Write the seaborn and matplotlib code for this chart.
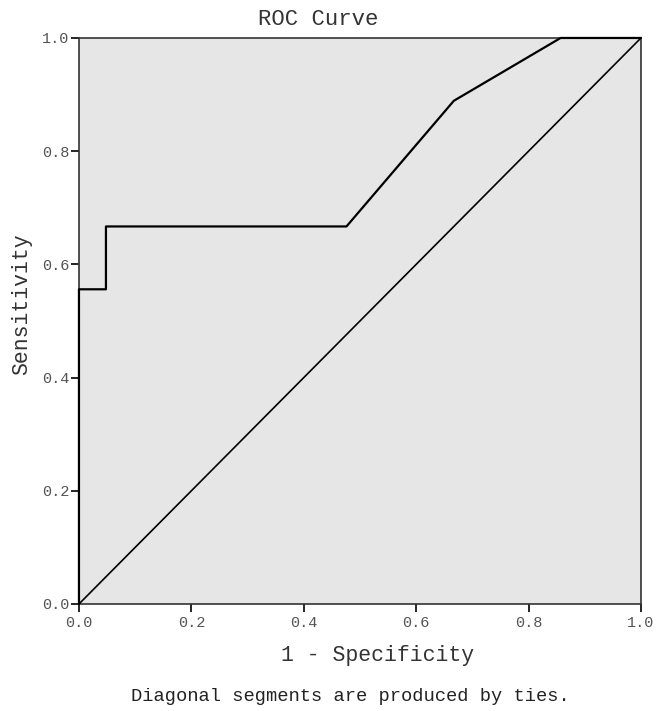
import matplotlib
matplotlib.use("Agg")
import matplotlib.pyplot as plt
import seaborn as sns
import pandas as pd

# ROC curve points
fpr = [0.0, 0.0, 0.048, 0.048, 0.476, 0.667, 0.857, 1.0]
tpr = [0.0, 0.556, 0.556, 0.667, 0.667, 0.889, 1.0, 1.0]
ref_x = [0.0, 1.0]
ref_y = [0.0, 1.0]
ticks = [0.0, 0.2, 0.4, 0.6, 0.8, 1.0]

sns.set_style("white")
plt.rcParams['font.family'] = ['Liberation Mono', 'DejaVu Sans Mono']

roc = pd.DataFrame({"fpr": fpr, "tpr": tpr})
ref = pd.DataFrame({"x": ref_x, "y": ref_y})

fig = plt.figure(figsize=(6.57, 7.11), dpi=100)
ax = fig.add_axes([0.1202, 0.1505, 0.8554, 0.7961])
ax.set_facecolor('#e6e6e6')

sns.lineplot(data=roc, x="fpr", y="tpr", sort=False, estimator=None,
             color='black', linewidth=1.6, ax=ax, zorder=3, clip_on=False)
sns.lineplot(data=ref, x="x", y="y", sort=False, estimator=None,
             color='black', linewidth=1.2, ax=ax, zorder=3)

ax.set_xlim(0, 1)
ax.set_ylim(0, 1)
ax.set_xticks(ticks)
ax.set_yticks(ticks)
ax.set_xticklabels([f"{t:.1f}" for t in ticks])
ax.set_yticklabels([f"{t:.1f}" for t in ticks])
ax.tick_params(bottom=True, left=True, direction='out', length=6, width=1.2,
               color='black', labelsize=11, labelcolor='#555555', pad=1)
ax.tick_params(axis='x', pad=3)
for s in ax.spines.values():
    s.set_color('#333333')
    s.set_linewidth(1.2)

ax.set_xlabel('')
ax.set_ylabel('')
fig.text(0.484, 0.972, 'ROC Curve', ha='center', va='center',
         fontsize=16, color='#333333')
fig.text(0.575, 0.0774, '1 - Specificity', ha='center', va='center',
         fontsize=15.5, color='#333333')
fig.text(0.0335, 0.5717, 'Sensitivity', ha='center', va='center',
         rotation=90, fontsize=15.5, color='#333333')
fig.text(0.534, 0.0197, 'Diagonal segments are produced by ties.',
         ha='center', va='center', fontsize=13.5, color='#222222')

fig.savefig('out.png', dpi=100)
